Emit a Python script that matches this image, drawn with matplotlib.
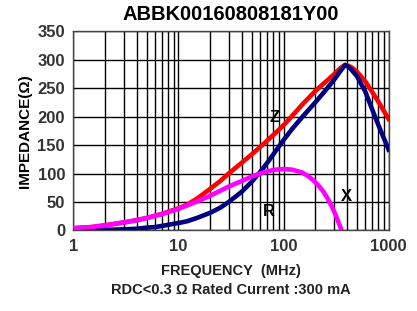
import matplotlib
matplotlib.use("Agg")
import matplotlib.pyplot as plt
from matplotlib.ticker import FixedLocator, NullFormatter

plt.rcParams['font.family'] = ['Liberation Sans', 'DejaVu Sans']
plt.rcParams['font.weight'] = 'bold'

# Werte
freq_z = [1, 1.5, 2, 3, 4, 5, 6, 7, 8, 10, 12, 15, 20, 25, 30, 40, 50, 60, 70, 80,
          100, 120, 150, 200, 250, 300, 350, 385, 420, 450, 500, 600, 700, 800, 1000]
z_vals = [4, 6, 9, 14, 18, 22, 26, 29, 33, 39, 45, 56, 73, 87, 100, 119, 134, 147, 158, 168,
          185, 201, 221, 245, 261, 274, 286, 291, 289, 286, 279, 262, 243, 226, 196]
r_vals = [0, 0, 1, 2, 3, 5, 6, 8, 10, 13, 16, 22, 31, 40, 50, 68, 86, 103, 119, 134,
          159, 178, 199, 225, 246, 264, 281, 291, 287, 281, 271, 244, 212, 185, 142]

freq_x = [1, 1.5, 2, 3, 4, 5, 7, 10, 15, 20, 30, 40, 50, 60, 70, 85, 100, 120, 150,
          170, 190, 215, 240, 265, 290, 310, 330, 345, 358]
x_vals = [4, 6, 9, 14, 18, 22, 29, 38, 51, 61, 77, 87, 95, 100, 104, 107, 108, 107, 102,
          96, 89, 79, 68, 55, 41, 29, 16, 7, 0]

x_ticks = [1, 10, 100, 1000]
y_ticks = [0, 50, 100, 150, 200, 250, 300, 350]

fig = plt.figure(figsize=(4.17, 3.11), dpi=100)
ax = fig.add_axes([0.176, 0.259, 0.756, 0.640])

ax.plot(freq_z, z_vals, color='#ff0000', lw=3.3, solid_joinstyle='round', zorder=3)
ax.plot(freq_z, r_vals, color='#000080', lw=3.3, solid_joinstyle='round', zorder=4)
ax.plot(freq_x, x_vals, color='#ff00ff', lw=3.3, solid_joinstyle='round', solid_capstyle='butt', zorder=5)

ax.set_xscale('log')
ax.set_xlim(1, 1000)
ax.set_ylim(0, 350)
ax.xaxis.set_major_locator(FixedLocator(x_ticks))
ax.xaxis.set_minor_locator(FixedLocator([m * d for d in [1, 10, 100] for m in range(2, 10)]))
ax.xaxis.set_minor_formatter(NullFormatter())
ax.set_xticklabels([str(t) for t in x_ticks])
ax.set_yticks(y_ticks)
ax.grid(True, which='both', color='black', lw=1.0)
ax.tick_params(which='both', length=0, labelsize=12, labelcolor='#333333', pad=6)
for s in ax.spines.values():
    s.set_color('#444444')
    s.set_linewidth(1.0)

ax.text(83, 198, 'Z', fontsize=12, ha='center', va='center', zorder=6)
ax.text(73, 34, 'R', fontsize=12, ha='center', va='center', zorder=6)
ax.text(394, 59, 'X', fontsize=12, ha='center', va='center', zorder=6)

ax.set_title('ABBK00160808181Y00', fontsize=14.5, fontweight='bold', pad=8)
ax.set_ylabel('IMPEDANCE(Ω)', fontsize=11, fontweight='bold', labelpad=4)
fig.text(0.553, 0.128, 'FREQUENCY  (MHz)', fontsize=10.5, ha='center', va='center', color='#222222')
fig.text(0.553, 0.066, 'RDC<0.3 Ω Rated Current :300 mA', fontsize=10.5, ha='center', va='center', color='#222222')

fig.savefig('out.png', dpi=100)
